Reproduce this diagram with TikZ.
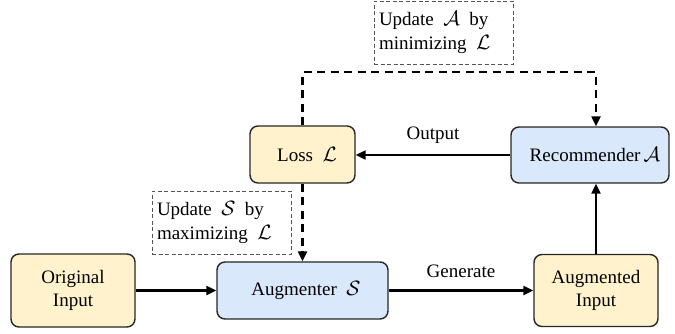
\documentclass[tikz,border=0pt]{standalone}
\usepackage{fontspec}
\setmainfont{Liberation Serif}
\usetikzlibrary{arrows.meta}

\definecolor{boxyellow}{HTML}{FFF2CC}
\definecolor{boxblue}{HTML}{DAE8FC}
\definecolor{noteframe}{HTML}{555555}

% calligraphic symbol set a little larger than the text
\newcommand{\symb}[1]{{\fontsize{20.5}{22.5}\selectfont$\mathcal{#1}$}}

\begin{document}
\begin{tikzpicture}[x=1pt,y=-1pt,
  font=\rmfamily\fontsize{19}{22.5}\selectfont,
  block/.style={draw=black!85, line width=1.4pt, rounded corners=8pt,
                align=center, inner sep=0pt},
  yellowblock/.style={block, fill=boxyellow},
  blueblock/.style={block, fill=boxblue},
  note/.style={draw=noteframe, line width=1pt, dash pattern=on 4pt off 2.5pt,
               align=left, inner sep=0pt, minimum width=139pt, minimum height=63pt,
               text width=129pt, font=\rmfamily\fontsize{19}{23.5}\selectfont},
  flow/.style={line width=2.2pt, -{Triangle[length=10pt,width=9pt]}},
  feedback/.style={line width=2.2pt, dash pattern=on 8pt off 5.5pt,
                   -{Triangle[length=10pt,width=9pt]}},
  lbl/.style={inner sep=0pt}
]
\useasboundingbox (0,0) rectangle (675,333);

% main blocks
\node[yellowblock, minimum width=124pt, minimum height=73pt] (orig) at (73,290.5)
  {Original\\Input};
\node[blueblock, minimum width=171pt, minimum height=57pt] (aug) at (302.5,290.5) {};
\node[lbl] (augtext) at (306,290.5) {Augmenter\ \ \symb{S}};
\node[yellowblock, minimum width=124pt, minimum height=72pt] (augin) at (596,290.5)
  {Augmented\\Input};
\node[yellowblock, minimum width=105pt, minimum height=57pt] (loss) at (302.5,154.5) {};
\node[lbl] (losstext) at (307,154.5) {Loss\ \ \symb{L}};
\node[blueblock, minimum width=158pt, minimum height=56pt] (rec) at (590,155) {};
\node[lbl] (rectext) at (595,155) {Recommender\,\symb{A}};

% annotation boxes
\node[note] (noteA) at (443.5,32.5)
  {Update\ \,\symb{A}\ \,by\\minimizing\ \,\symb{L}};
\node[note] (noteS) at (221.5,222.5)
  {Update\ \,\symb{S}\ \,by\\maximizing\ \,\symb{L}};

% solid data flow
\draw[flow] (orig.east |- aug.center) -- (aug.west);
\draw[flow] (aug.east) -- node[lbl, above=12pt] (gen) {Generate} (augin.west |- aug.center);
\draw[flow] (augin.north) -- (augin.north |- rec.south);
\draw[flow] (rec.west) -- node[lbl, above=10pt] (out) {Output} (loss.east |- rec.west);

% dashed update paths
\draw[feedback] (loss.north) -- ++(0,-53) coordinate (turn) -| (augin.north |- rec.north);
\draw[feedback] (loss.south) -- (aug.north);
\end{tikzpicture}
\end{document}
